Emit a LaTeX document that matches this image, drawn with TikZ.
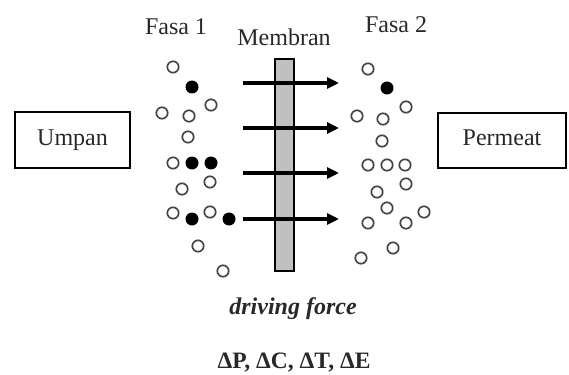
\documentclass[tikz,border=0pt]{standalone}
\usepackage{fontspec}
\setmainfont{Liberation Serif}
\usetikzlibrary{arrows.meta}
\definecolor{txt}{RGB}{40,40,40}
\definecolor{memb}{RGB}{192,192,192}
\definecolor{ring}{RGB}{70,70,70}
\begin{document}
\begin{tikzpicture}[x=1pt,y=-1pt,
  lbl/.style={font=\fontsize{24}{26}\selectfont, text=txt, inner sep=0pt, anchor=base},
  box/.style={draw=black, line width=1.6pt, fill=white},
  opn/.style={draw=ring, line width=1.7pt, fill=white},
  fil/.style={fill=black},
  flow/.style={line width=3.2pt, -{Triangle[length=12pt,width=11pt]}}]
\useasboundingbox (0,0) rectangle (569,374);
% boxes
\draw[box] (15,112) rectangle (130,168);
\node[lbl] (umpan) at (72.5,146) {Umpan};
\draw[box] (438,113) rectangle (566,168);
\node[lbl] (permeat) at (502,146) {Permeat};
% labels
\node[lbl] (fasa1) at (176,35) {Fasa 1};
\node[lbl] (fasa2) at (396,33) {Fasa 2};
\node[lbl] (membran) at (284,46) {Membran};
\node[lbl, font=\fontsize{24}{26}\selectfont\bfseries\itshape] (df) at (293,314) {driving force};
\node[lbl, font=\fontsize{23.5}{26}\selectfont\bfseries] (dp) at (294,368) {ΔP, ΔC, ΔT, ΔE};
% membrane
\draw[fill=memb, line width=1.2pt] (275,59) rectangle (294,271);
% arrows
\foreach \y [count=\i] in {83,128,173,219}{
  \coordinate (a\i) at (243,\y);
  \coordinate (b\i) at (339,\y);
  \draw[flow] (a\i) -- (b\i);
}
% phase 1 particles
\foreach \p in {(173,67),(211,105),(162,113),(189,116),(188,137),(173,163),(210,182),(182,189),(173,213),(210,212),(198,246),(223,271)}
  \draw[opn] \p circle (5.7);
\foreach \p in {(192,87),(192,163),(211,163),(192,219),(229,219)}
  \fill[fil] \p circle (6.5);
% phase 2 particles
\foreach \p in {(368,69),(406,107),(357,116),(383,119),(382,141),(368,165),(387,165),(405,165),(406,184),(377,192),(387,208),(424,212),(368,223),(406,223),(393,248),(361,258)}
  \draw[opn] \p circle (5.7);
\fill[fil] (387,88) circle (6.5);
\end{tikzpicture}
\end{document}
